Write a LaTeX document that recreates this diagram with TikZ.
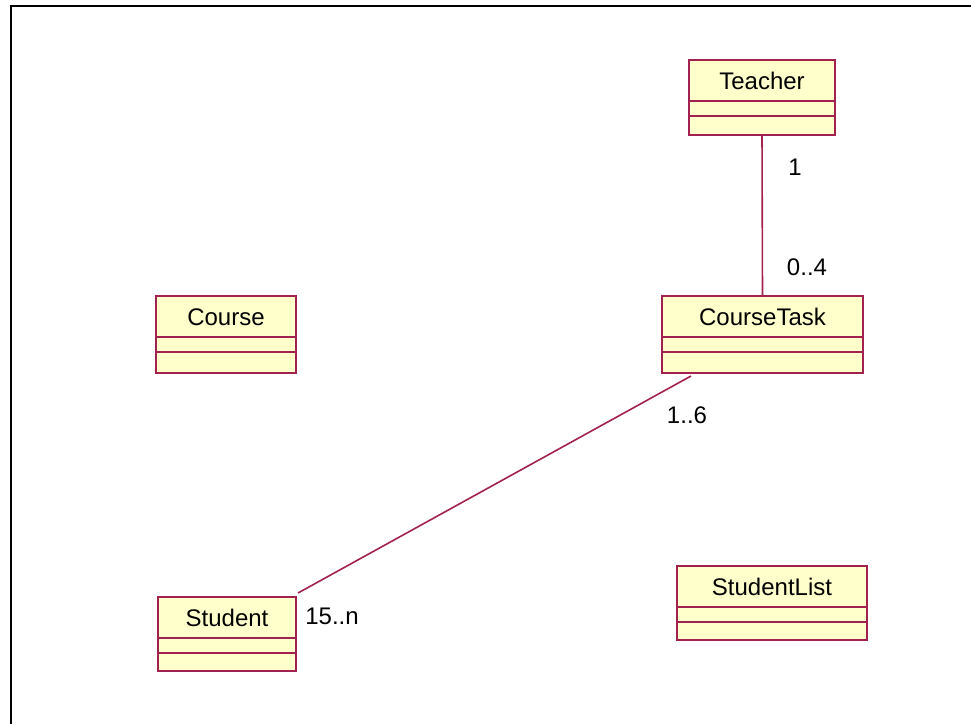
\documentclass[tikz,border=0pt]{standalone}
\usepackage{fontspec}
\setmainfont{Liberation Sans}
\usetikzlibrary{calc}
\definecolor{umlfill}{HTML}{FFFFCC}
\definecolor{umlline}{HTML}{A3214F}
\tikzset{
  cls/.style={draw=umlline, fill=umlfill, line width=2pt, inner sep=0pt, outer sep=0pt},
  cline/.style={draw=umlline, line width=2pt},
  assoc/.style={draw=umlline, line width=1.6pt},
  lbl/.style={font=\fontsize{24}{28}\selectfont, anchor=base, inner sep=0pt},
  mult/.style={font=\fontsize{24}{28}\selectfont, anchor=base, inner sep=0pt}
}
\newcommand{\umlclass}[6]{%
  \node[cls, minimum width=#4pt, minimum height=#5pt, anchor=north west] (#1) at (#2,#3) {};
  \node[lbl] (#1-name) at ($(#1.north)+(0,29)$) {#6};
  \draw[cline] ($(#1.north west)+(0,41)$) -- ($(#1.north east)+(0,41)$);
  \draw[cline] ($(#1.north west)+(0,56)$) -- ($(#1.north east)+(0,56)$);
}
\begin{document}
\begin{tikzpicture}[x=1pt,y=-1pt]
\useasboundingbox (0,0) rectangle (971,724);
\draw[line width=2.2pt, black] (11,724) -- (11,6) -- (971,6);
\umlclass{teacher}{689}{60}{146}{75}{Teacher}
\umlclass{course}{156}{296}{140}{77}{Course}
\umlclass{coursetask}{662}{296}{201}{77}{CourseTask}
\umlclass{student}{158}{597}{138}{74}{Student}
\umlclass{studentlist}{677}{566}{190}{74}{StudentList}
\draw[assoc] (teacher.south) -- (coursetask.north);
\draw[assoc] ($(coursetask.south west)+(29,3)$) -- ($(student.north east)+(2,-4)$);
\node[mult] (m1) at (795,175) {1};
\node[mult] (m2) at (807,275) {0..4};
\node[mult] (m3) at (687,423) {1..6};
\node[mult] (m4) at (332,624) {15..n};
\end{tikzpicture}
\end{document}
